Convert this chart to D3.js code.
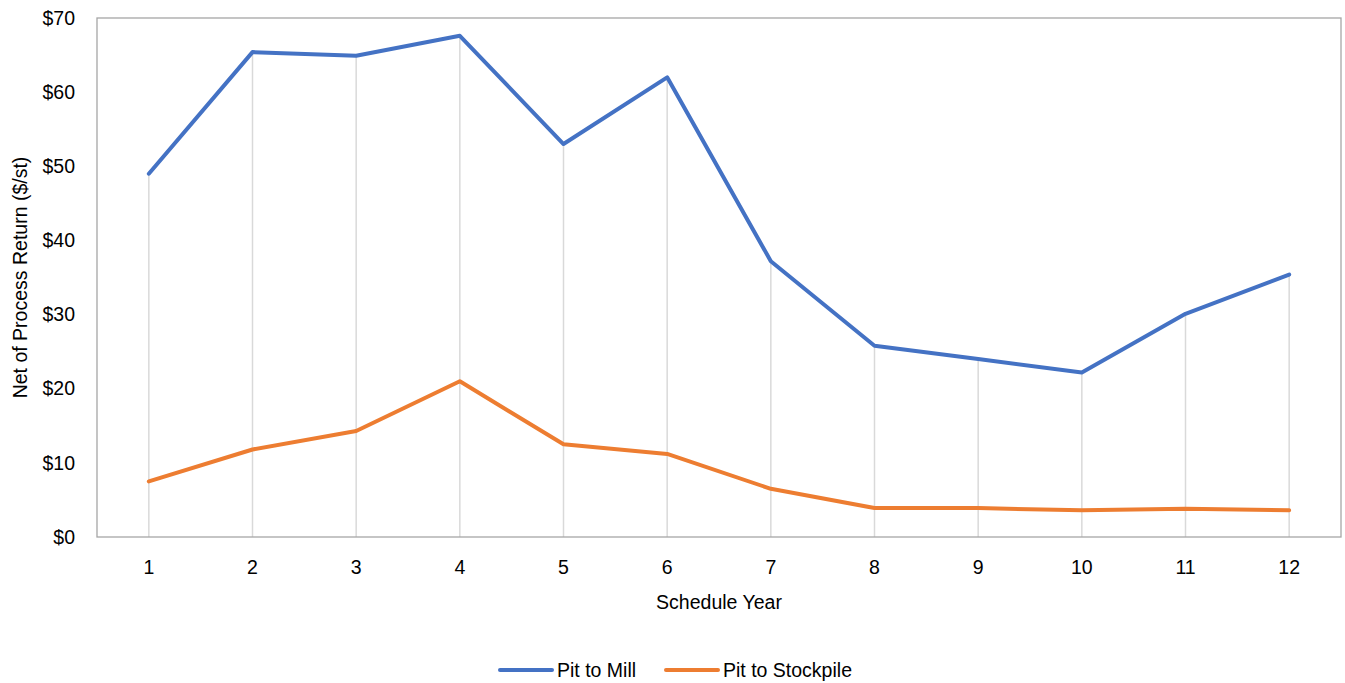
<!DOCTYPE html>
<html><head><meta charset="utf-8">
<script src="https://cdn.jsdelivr.net/npm/d3@7/dist/d3.min.js"></script>
<style>body{margin:0;background:#fff;font-family:"Liberation Sans",Arial,sans-serif;}</style>
</head><body><svg id="c" width="1345" height="683"></svg>
<script>
const years = ["1","2","3","4","5","6","7","8","9","10","11","12"];
const pitToMill = [49.0, 65.4, 64.9, 67.6, 53.0, 62.0, 37.2, 25.8, 24.0, 22.2, 30.1, 35.4];
const pitToStockpile = [7.5, 11.8, 14.3, 21.0, 12.5, 11.2, 6.5, 3.9, 3.9, 3.6, 3.8, 3.6];
const yTicks = [0,10,20,30,40,50,60,70];
const seriesNames = ["Pit to Mill","Pit to Stockpile"];
const colors = ["#4472C4","#ED7D31"];

const FS = 19.5;
const svg = d3.select("#c");
const L=97, R=1341, T=18, B=537;
const x = d3.scaleBand().domain(years).range([L,R]);
const y = d3.scaleLinear().domain([0,70]).range([B,T]);
const cx = d => x(d)+x.bandwidth()/2;

// drop lines
const maxVals = years.map((d,i)=>Math.max(pitToMill[i],pitToStockpile[i]));
svg.append("g").selectAll("line").data(years).join("line")
  .attr("x1",cx).attr("x2",cx).attr("y1",(d,i)=>y(maxVals[i])).attr("y2",B)
  .attr("stroke","#d9d9d9").attr("stroke-width",1.5);

// plot border
svg.append("rect").attr("x",L).attr("y",T).attr("width",R-L).attr("height",B-T)
  .attr("fill","none").attr("stroke","#a6a6a6").attr("stroke-width",1.3);

// y axis
const yAxis = d3.axisLeft(y).tickValues(yTicks).tickSize(0).tickPadding(22).tickFormat(d=>"$"+d);
const gy = svg.append("g").attr("transform",`translate(${L},0)`).call(yAxis);
gy.select(".domain").remove();
gy.selectAll("text").attr("font-size",FS).attr("font-family","Liberation Sans, Arial, sans-serif").attr("fill","#000");

// x axis
const xAxis = d3.axisBottom(x).tickSize(0).tickPadding(23);
const gx = svg.append("g").attr("transform",`translate(0,${B})`).call(xAxis);
gx.select(".domain").remove();
gx.selectAll("text").attr("font-size",FS).attr("font-family","Liberation Sans, Arial, sans-serif").attr("fill","#000");

// lines
const line = d3.line().x((d,i)=>cx(years[i])).y(d=>y(d));
[pitToMill,pitToStockpile].forEach((s,k)=>{
  svg.append("path").datum(s).attr("d",line).attr("fill","none")
    .attr("stroke",colors[k]).attr("stroke-width",4).attr("stroke-linejoin","round").attr("stroke-linecap","round");
});

// axis titles
svg.append("text").attr("x",(L+R)/2).attr("y",609).attr("text-anchor","middle")
  .attr("font-size",FS).text("Schedule Year");
svg.append("text").attr("transform",`translate(27,${(T+B)/2}) rotate(-90)`).attr("text-anchor","middle")
  .attr("font-size",FS).text("Net of Process Return ($/st)");

// legend
const lg = [{x:500,tx:557},{x:666,tx:723}];
seriesNames.forEach((n,k)=>{
  svg.append("line").attr("x1",lg[k].x).attr("x2",lg[k].x+52).attr("y1",670).attr("y2",670)
    .attr("stroke",colors[k]).attr("stroke-width",4).attr("stroke-linecap","round");
  svg.append("text").attr("x",lg[k].tx).attr("y",677).attr("font-size",FS).text(n);
});
</script></body></html>
